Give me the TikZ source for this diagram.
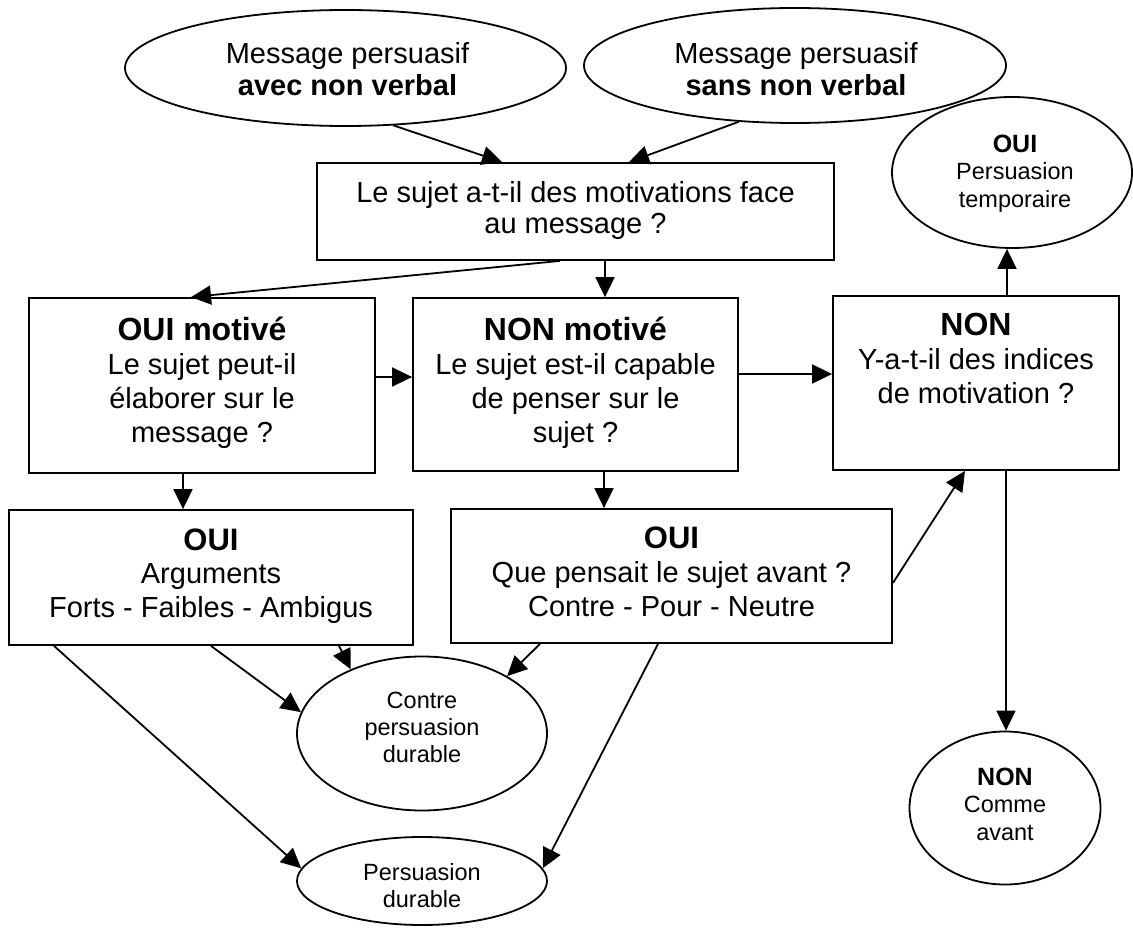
\documentclass[tikz,border=0pt]{standalone}
\usepackage{fontspec}
\setmainfont{Liberation Sans}
\usetikzlibrary{arrows.meta,shapes.geometric,calc}
\newcommand\mystrut[1]{\rule{0pt}{#1pt}}
\begin{document}
\begin{tikzpicture}[x=1pt,y=-1pt,
  shp/.style={draw=black,line width=1.8pt,inner sep=0pt},
  boxn/.style={shp,rectangle},
  ell/.style={shp,ellipse},
  txt/.style={anchor=north,inner sep=0pt,align=center},
  arr/.style={line width=1.8pt,-{Triangle[length=20pt,width=19pt]}}]
\fill[white] (0,0) rectangle (1133,928);
\useasboundingbox (0,0) rectangle (1133,928);

% shapes
\node[ell,minimum width=441pt,minimum height=116pt] (e1) at (345.5,68) {};
\node[ell,minimum width=422pt,minimum height=115pt] (e2) at (795,65.5) {};
\node[boxn,minimum width=517pt,minimum height=97pt] (q) at (575.5,211.5) {};
\node[ell,minimum width=240pt,minimum height=151pt] (oui) at (1012,172.5) {};
\node[boxn,minimum width=346pt,minimum height=175pt] (b1) at (202,385.5) {};
\node[boxn,minimum width=325pt,minimum height=173pt] (b2) at (575.5,384.5) {};
\node[boxn,minimum width=286pt,minimum height=174pt] (nb) at (976,383) {};
\node[boxn,minimum width=404pt,minimum height=135pt] (b3) at (211,577.5) {};
\node[boxn,minimum width=441pt,minimum height=134pt] (b4) at (671.5,576) {};
\node[ell,minimum width=250pt,minimum height=154pt] (ce) at (422,733.5) {};
\node[ell,minimum width=250pt,minimum height=88pt] (pd) at (422,881) {};
\node[ell,minimum width=191pt,minimum height=153pt] (ne) at (1005,808) {};

% texts
\node[txt,font=\fontsize{29}{32}\selectfont] (t1) at (347.5,33)
  {\mystrut{30}Message persuasif\\\textbf{avec non verbal}};
\node[txt,font=\fontsize{29}{32}\selectfont] (t2) at (796,33)
  {\mystrut{30}Message persuasif\\\textbf{sans non verbal}};
\node[txt,font=\fontsize{29}{31}\selectfont] (tq) at (575.5,172)
  {\mystrut{30}Le sujet a-t-il des motivations face\\au message ?};
\node[txt,font=\fontsize{29}{34}\selectfont] (tb1) at (202,310)
  {\mystrut{30}{\fontsize{32}{34}\selectfont\bfseries OUI motiv\'e}\\Le sujet peut-il\\\'elaborer sur le\\message ?};
\node[txt,font=\fontsize{29}{34}\selectfont] (tb2) at (575.5,310)
  {\mystrut{30}{\fontsize{32}{34}\selectfont\bfseries NON motiv\'e}\\Le sujet est-il capable\\de penser sur le\\sujet ?};
\node[txt,font=\fontsize{29}{34}\selectfont] (tnb) at (976,305)
  {\mystrut{30}{\fontsize{32}{34}\selectfont\bfseries NON}\\Y-a-t-il des indices\\de motivation ?};
\node[txt,font=\fontsize{29}{33.5}\selectfont] (tb3) at (211,520)
  {\mystrut{30}{\fontsize{31}{34}\selectfont\bfseries OUI}\\Arguments\\Forts - Faibles - Ambigus};
\node[txt,font=\fontsize{29}{34}\selectfont] (tb4) at (671.5,518)
  {\mystrut{30}{\fontsize{31}{34}\selectfont\bfseries OUI}\\Que pensait le sujet avant ?\\Contre - Pour - Neutre};
\node[txt,font=\fontsize{23.5}{27.5}\selectfont] (toui) at (1015,126)
  {\mystrut{26}{\fontsize{25}{27}\selectfont\bfseries OUI}\\Persuasion\\temporaire};
\node[txt,font=\fontsize{23.5}{27.5}\selectfont] (tne) at (1005,759)
  {\mystrut{26}{\fontsize{25}{27}\selectfont\bfseries NON}\\Comme\\avant};
\node[txt,font=\fontsize{23.5}{27}\selectfont] (tce) at (422,684)
  {\mystrut{24}Contre\\persuasion\\durable};
\node[txt,font=\fontsize{23.5}{27}\selectfont] (tpd) at (422,856)
  {\mystrut{24}Persuasion\\durable};

% connectors
\draw[arr] (e1.-50) -- ([xshift=-73.5pt]q.north);
\draw[arr] (e2.-135) -- ([xshift=53.5pt]q.north);
\draw[arr] ([xshift=-15.5pt]q.south) -- ([xshift=-11pt]b1.north);
\draw[arr] ([xshift=29.5pt]q.south) -- ([xshift=29.5pt]b2.north);
\draw[arr] ([yshift=8.5pt]b1.east) -- ([yshift=7.5pt]b2.west);
\draw[arr] ([yshift=10.5pt]b2.east) -- ([yshift=9pt]nb.west);
\draw[arr] ([xshift=31pt]nb.north) -- ([xshift=-5pt]oui.south);
\draw[arr] ([xshift=-19pt]b1.south) -- ([xshift=-28pt]b3.north);
\draw[arr] ([xshift=28.5pt]b2.south) -- ([xshift=-67.5pt]b4.north);
\draw[arr] ([yshift=-7pt]b4.east) -- ([xshift=-11pt]nb.south);
\draw[arr] ([xshift=30pt]nb.south) -- ([xshift=1pt]ne.north);
\draw[arr] (b3.south) -- (ce.170);
\draw[arr] ([xshift=128pt]b3.south) -- (ce.138);
\draw[arr] ([xshift=-131.5pt]b4.south) -- (ce.34);
\draw[arr] ([xshift=-157pt]b3.south) -- (pd.174);
\draw[arr] ([xshift=-13.5pt]b4.south) -- (pd.6);
\end{tikzpicture}
\end{document}
